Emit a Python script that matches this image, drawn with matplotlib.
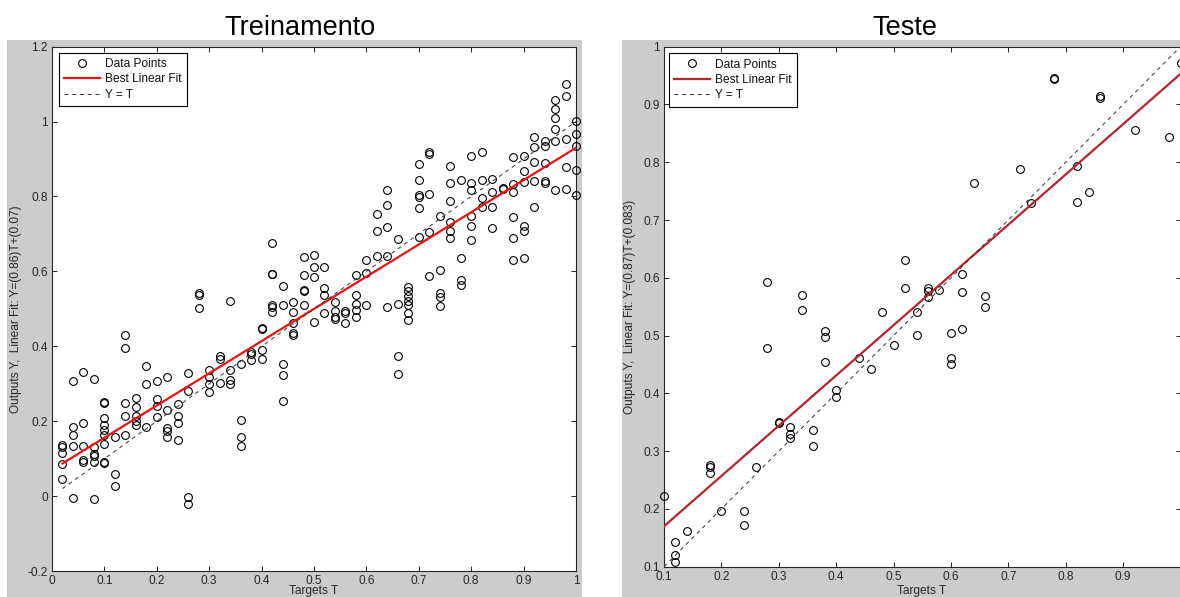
import matplotlib
matplotlib.use('Agg')
import matplotlib.pyplot as plt
from matplotlib.patches import Rectangle
import numpy as np

plt.rcParams['font.family'] = ['Liberation Sans', 'DejaVu Sans']

# ---------------- data ----------------
train_targets = [
    0.02, 0.02, 0.02, 0.02, 0.02,
    0.04, 0.04, 0.04, 0.04, 0.04,
    0.06, 0.06, 0.06, 0.06, 0.06,
    0.08, 0.08, 0.08, 0.08, 0.08, 0.08,
    0.10, 0.10, 0.10, 0.10, 0.10, 0.10, 0.10, 0.10, 0.10,
    0.12, 0.12, 0.12,
    0.14, 0.14, 0.14, 0.14, 0.14,
    0.16, 0.16, 0.16, 0.16, 0.16,
    0.18, 0.18, 0.18,
    0.20, 0.20, 0.20, 0.20,
    0.22, 0.22, 0.22, 0.22, 0.22,
    0.24, 0.24, 0.24, 0.24,
    0.26, 0.26, 0.26, 0.26,
    0.28, 0.28, 0.28,
    0.30, 0.30, 0.30, 0.30,
    0.32, 0.32, 0.32,
    0.34, 0.34, 0.34, 0.34,
    0.36, 0.36, 0.36, 0.36,
    0.38, 0.38, 0.38,
    0.40, 0.40, 0.40, 0.40,
    0.42, 0.42, 0.42, 0.42, 0.42, 0.42,
    0.44, 0.44, 0.44, 0.44, 0.44,
    0.46, 0.46, 0.46, 0.46, 0.46,
    0.48, 0.48, 0.48, 0.48, 0.48,
    0.50, 0.50, 0.50, 0.50,
    0.52, 0.52, 0.52, 0.52,
    0.54, 0.54, 0.54, 0.54,
    0.56, 0.56, 0.56,
    0.58, 0.58, 0.58, 0.58, 0.58,
    0.60, 0.60, 0.60,
    0.62, 0.62, 0.62,
    0.64, 0.64, 0.64, 0.64, 0.64,
    0.66, 0.66, 0.66, 0.66,
    0.68, 0.68, 0.68, 0.68, 0.68, 0.68, 0.68,
    0.70, 0.70, 0.70, 0.70, 0.70, 0.70,
    0.72, 0.72, 0.72, 0.72, 0.72,
    0.74, 0.74, 0.74, 0.74, 0.74,
    0.76, 0.76, 0.76, 0.76, 0.76, 0.76,
    0.78, 0.78, 0.78, 0.78,
    0.80, 0.80, 0.80, 0.80, 0.80, 0.80,
    0.82, 0.82, 0.82, 0.82,
    0.84, 0.84, 0.84, 0.84,
    0.86, 0.86,
    0.88, 0.88, 0.88, 0.88, 0.88, 0.88,
    0.90, 0.90, 0.90, 0.90, 0.90, 0.90,
    0.92, 0.92, 0.92, 0.92, 0.92,
    0.94, 0.94, 0.94, 0.94, 0.94,
    0.96, 0.96, 0.96, 0.96, 0.96, 0.96,
    0.98, 0.98, 0.98, 0.98, 0.98,
    1.00, 1.00, 1.00, 1.00, 1.00,
]
train_outputs = [
    0.137, 0.132, 0.114, 0.087, 0.045,
    0.307, 0.184, 0.162, 0.135, -0.004,
    0.331, 0.196, 0.135, 0.096, 0.090,
    0.314, 0.131, 0.112, 0.107, 0.092, -0.009,
    0.252, 0.249, 0.208, 0.189, 0.176, 0.162, 0.140, 0.092, 0.088,
    0.158, 0.059, 0.027,
    0.429, 0.395, 0.249, 0.213, 0.162,
    0.261, 0.237, 0.213, 0.200, 0.191,
    0.348, 0.299, 0.184,
    0.308, 0.260, 0.240, 0.211,
    0.319, 0.231, 0.181, 0.173, 0.158,
    0.247, 0.213, 0.196, 0.149,
    0.330, 0.280, -0.002, -0.020,
    0.542, 0.538, 0.501,
    0.337, 0.317, 0.300, 0.278,
    0.373, 0.366, 0.302,
    0.522, 0.338, 0.309, 0.300,
    0.354, 0.203, 0.158, 0.133,
    0.385, 0.379, 0.363,
    0.449, 0.445, 0.391, 0.367,
    0.677, 0.594, 0.592, 0.509, 0.505, 0.492,
    0.562, 0.511, 0.353, 0.324, 0.253,
    0.518, 0.492, 0.462, 0.436, 0.431,
    0.638, 0.591, 0.551, 0.547, 0.509,
    0.644, 0.613, 0.584, 0.464,
    0.613, 0.556, 0.538, 0.489,
    0.517, 0.493, 0.478, 0.473,
    0.493, 0.489, 0.461,
    0.591, 0.538, 0.514, 0.498, 0.478,
    0.631, 0.597, 0.509,
    0.753, 0.709, 0.640,
    0.818, 0.778, 0.718, 0.642, 0.505,
    0.686, 0.513, 0.373, 0.326,
    0.558, 0.547, 0.533, 0.520, 0.511, 0.489, 0.469,
    0.886, 0.845, 0.805, 0.799, 0.769, 0.693,
    0.920, 0.914, 0.806, 0.704, 0.589,
    0.747, 0.603, 0.542, 0.532, 0.507,
    0.882, 0.836, 0.787, 0.733, 0.709, 0.689,
    0.845, 0.636, 0.578, 0.565,
    0.907, 0.836, 0.818, 0.747, 0.720, 0.683,
    0.920, 0.845, 0.796, 0.772,
    0.846, 0.813, 0.773, 0.716,
    0.824, 0.820,
    0.905, 0.833, 0.811, 0.745, 0.689, 0.631,
    0.907, 0.867, 0.840, 0.722, 0.709, 0.636,
    0.958, 0.933, 0.893, 0.842, 0.772,
    0.947, 0.935, 0.889, 0.842, 0.836,
    1.058, 1.034, 1.009, 0.980, 0.949, 0.818,
    1.100, 1.069, 0.953, 0.880, 0.821,
    1.002, 0.966, 0.935, 0.871, 0.803,
]

test_targets = [0.10, 0.12, 0.12, 0.12, 0.14, 0.18, 0.18, 0.18, 0.20, 0.24, 0.24,
                0.26, 0.28, 0.28, 0.30, 0.30, 0.32, 0.32, 0.32, 0.34, 0.34, 0.36,
                0.36, 0.38, 0.38, 0.38, 0.40, 0.40, 0.44, 0.46, 0.48, 0.50, 0.52,
                0.52, 0.54, 0.54, 0.56, 0.56, 0.56, 0.58, 0.60, 0.60, 0.60, 0.62,
                0.62, 0.62, 0.64, 0.66, 0.66, 0.72, 0.74, 0.78, 0.78, 0.82, 0.82,
                0.84, 0.86, 0.86, 0.92, 0.98, 1.00]
test_outputs = [0.222, 0.143, 0.120, 0.109, 0.162, 0.276, 0.272, 0.262, 0.197, 0.197, 0.172,
                0.273, 0.592, 0.479, 0.351, 0.348, 0.341, 0.330, 0.322, 0.571, 0.545, 0.337,
                0.309, 0.508, 0.498, 0.455, 0.405, 0.394, 0.461, 0.443, 0.540, 0.484, 0.631,
                0.583, 0.541, 0.501, 0.583, 0.577, 0.566, 0.579, 0.505, 0.462, 0.450, 0.606,
                0.576, 0.511, 0.764, 0.568, 0.550, 0.789, 0.730, 0.946, 0.944, 0.794, 0.731,
                0.749, 0.915, 0.912, 0.856, 0.843, 0.972]

train_fit = (0.86, 0.07)
test_fit = (0.87, 0.083)

titles = ["Treinamento", "Teste"]
ylabels = ["Outputs Y,  Linear Fit: Y=(0.86)T+(0.07)",
           "Outputs Y,  Linear Fit: Y=(0.87)T+(0.083)"]
xlabel = "Targets T"
legend_labels = ["Data Points", "Best Linear Fit", "Y = T"]

train_xticks = [0, 0.1, 0.2, 0.3, 0.4, 0.5, 0.6, 0.7, 0.8, 0.9, 1]
train_xticklabels = ["0", "0.1", "0.2", "0.3", "0.4", "0.5", "0.6", "0.7", "0.8", "0.9", "1"]
train_yticks = [-0.2, 0, 0.2, 0.4, 0.6, 0.8, 1.0, 1.2]
train_yticklabels = ["-0.2", "0", "0.2", "0.4", "0.6", "0.8", "1", "1.2"]
test_xticks = [0.1, 0.2, 0.3, 0.4, 0.5, 0.6, 0.7, 0.8, 0.9, 1.0]
test_xticklabels = ["0.1", "0.2", "0.3", "0.4", "0.5", "0.6", "0.7", "0.8", "0.9", ""]
test_yticks = [0.1, 0.2, 0.3, 0.4, 0.5, 0.6, 0.7, 0.8, 0.9, 1.0]
test_yticklabels = ["0.1", "0.2", "0.3", "0.4", "0.5", "0.6", "0.7", "0.8", "0.9", "1"]

# ---------------- figure ----------------
W, H = 1180, 597
fig = plt.figure(figsize=(W / 100, H / 100), dpi=100, facecolor='white')

def fx(px):
    return px / W

def fy(py):
    return 1 - py / H

GRAY = '#cccccc'
TXT = '#262626'

# gray panel backgrounds (behind the axes)
fig.patches.append(Rectangle((fx(7), 0), fx(582) - fx(7), fy(40), transform=fig.transFigure,
                             facecolor=GRAY, edgecolor='none', zorder=-10))
fig.patches.append(Rectangle((fx(622), 0), fx(1180) - fx(622), fy(40), transform=fig.transFigure,
                             facecolor=GRAY, edgecolor='none', zorder=-10))

ax1 = fig.add_axes([fx(52), fy(571), (576 - 52) / W, (571 - 46.7) / H], zorder=1)
ax2 = fig.add_axes([fx(664), fy(566.7), (1180.5 - 664) / W, (566.7 - 46.7) / H], zorder=1)


def draw(ax, T, Y, fit, color, xlim, ylim, xt, xtl, yt, ytl, leg_anchor):
    T = np.asarray(T)
    Y = np.asarray(Y)
    ax.set_facecolor('white')
    h_pts, = ax.plot(T, Y, linestyle='none', marker='o', markersize=5.6,
                     markerfacecolor='none', markeredgecolor='black',
                     markeredgewidth=0.8, clip_on=False, zorder=3)
    tt = np.array([T.min(), T.max()])
    h_fit, = ax.plot(tt, fit[0] * tt + fit[1], color=color, lw=1.6, zorder=4)
    h_id, = ax.plot(tt, tt, color='#333333', lw=0.7, zorder=4)
    h_id.set_dashes([4, 4])
    ax.set_xlim(*xlim)
    ax.set_ylim(*ylim)
    ax.set_xticks(xt)
    ax.set_xticklabels(xtl)
    ax.set_yticks(yt)
    ax.set_yticklabels(ytl)
    ax.tick_params(direction='in', length=3.6, width=0.7, colors='#262626',
                   labelcolor=TXT, labelsize=8.6, pad=3,
                   top=True, right=True)
    for s in ax.spines.values():
        s.set_color('#262626')
        s.set_linewidth(0.8)
    leg = ax.legend([h_pts, h_fit, h_id], legend_labels, loc='upper left',
                    bbox_to_anchor=leg_anchor, borderaxespad=0, fontsize=8.6,
                    frameon=True, fancybox=False, edgecolor='black',
                    handlelength=3.0, handletextpad=0.4, labelspacing=0.28,
                    borderpad=0.45, framealpha=1)
    leg.get_frame().set_linewidth(0.8)
    leg.set_zorder(10)
    for t in leg.get_texts():
        t.set_color('#111111')
    return ax


draw(ax1, train_targets, train_outputs, train_fit, '#ee1111', (0, 1), (-0.2, 1.2),
     train_xticks, train_xticklabels, train_yticks, train_yticklabels,
     ((58.7 - 52) / 524, 1 - (52.7 - 46.7) / 524.3))
draw(ax2, test_targets, test_outputs, test_fit, '#b3262b', (0.1, 1.0), (0.1, 1.0),
     test_xticks, test_xticklabels, test_yticks, test_yticklabels,
     ((669 - 664) / 516.5, 1 - (53.3 - 46.7) / 520))

# titles
fig.text(fx(300), fy(35), titles[0], ha='center', va='baseline', fontsize=19.5, color='black')
fig.text(fx(905), fy(35), titles[1], ha='center', va='baseline', fontsize=19.5, color='black')

# axis labels
fig.text(fx(16.5), fy(309), ylabels[0], rotation=90, ha='center', va='center',
         fontsize=8.6, color=TXT)
fig.text(fx(630), fy(307), ylabels[1], rotation=90, ha='center', va='center',
         fontsize=8.6, color=TXT)
fig.text(fx(314), fy(591), xlabel, ha='center', va='center', fontsize=8.6, color=TXT)
fig.text(fx(922), fy(591), xlabel, ha='center', va='center', fontsize=8.6, color=TXT)

fig.savefig('out.png', dpi=100, facecolor='white')
